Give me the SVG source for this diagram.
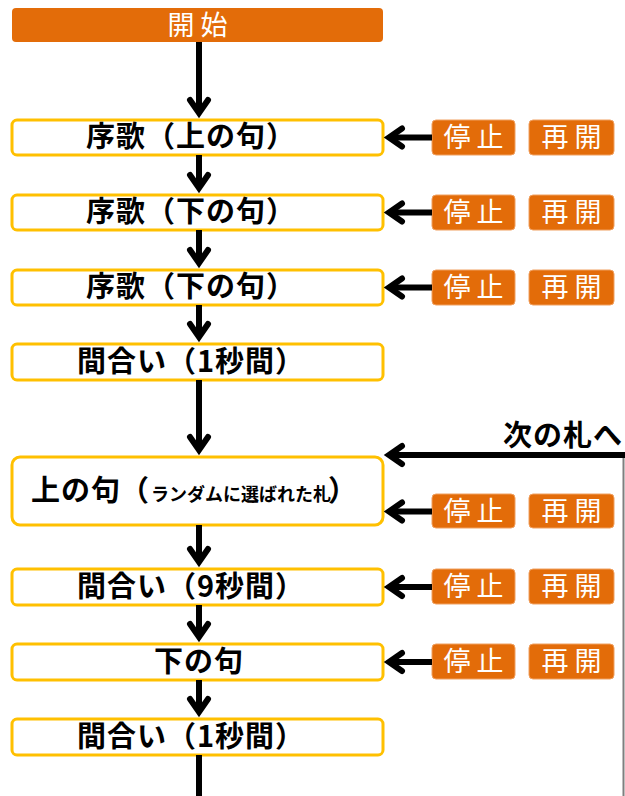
<svg xmlns="http://www.w3.org/2000/svg" width="625" height="796" viewBox="0 0 625 796">
<style>
.box{fill:#fff;stroke:#FFC000;stroke-width:3}
.btn{fill:#E36C09;stroke:#F0A060;stroke-width:1}
.t{font-family:"Noto Sans CJK JP","Noto Sans CJK SC",sans-serif;font-weight:700;font-size:29px;fill:#000;text-anchor:middle;letter-spacing:1px}
.bt{font-family:"Noto Sans CJK JP","Noto Sans CJK SC",sans-serif;font-weight:400;font-size:27px;fill:#fff;text-anchor:middle;letter-spacing:6px}
.ln{stroke:#000;stroke-width:6;fill:none}
</style>
<defs>
<marker id="ah" markerUnits="userSpaceOnUse" markerWidth="40" markerHeight="40" viewBox="-20 -20 40 40" refX="0" refY="0" orient="auto" overflow="visible">
<path d="M-13,-9 L0,0 L-13,9" fill="none" stroke="#000" stroke-width="6" stroke-linecap="round" stroke-linejoin="miter"/>
</marker>
</defs>
<rect width="625" height="796" fill="#fff"/>

<g id="start">
<rect x="12" y="8" width="371" height="34" rx="4" fill="#E36C09"/>
<text class="bt" x="200.5" y="35">開始</text>
</g>

<g id="n1"><rect class="box" x="12" y="120" width="371" height="35" rx="5"/><text class="t" x="191" y="147">序歌（上の句）</text></g>
<g id="n2"><rect class="box" x="12" y="195" width="371" height="35" rx="5"/><text class="t" x="191" y="222">序歌（下の句）</text></g>
<g id="n3"><rect class="box" x="12" y="270" width="371" height="35" rx="5"/><text class="t" x="191" y="297">序歌（下の句）</text></g>
<g id="n4"><rect class="box" x="12" y="344" width="371" height="36" rx="5"/><text class="t" x="191" y="372">間合い（1秒間）</text></g>
<g id="n5"><rect class="box" x="12" y="457" width="371" height="68" rx="8"/>
<text class="t" style="text-anchor:start" y="501"><tspan x="31">上の句</tspan><tspan x="120">（</tspan><tspan x="151" font-size="18px" letter-spacing="0">ランダムに選ばれた札</tspan><tspan x="328">）</tspan></text></g>
<g id="n6"><rect class="box" x="12" y="569" width="371" height="36" rx="5"/><text class="t" x="191" y="597">間合い（9秒間）</text></g>
<g id="n7"><rect class="box" x="12" y="644" width="371" height="36" rx="5"/><text class="t" x="199" y="672">下の句</text></g>
<g id="n8"><rect class="box" x="12" y="719" width="371" height="36" rx="5"/><text class="t" x="191" y="747">間合い（1秒間）</text></g>

<g id="controls">
<g id="c1"><rect class="btn" x="432" y="120" width="83" height="35" rx="4"/><text class="bt" x="476.5" y="147">停止</text><rect class="btn" x="529" y="120" width="85" height="35" rx="4"/><text class="bt" x="574.5" y="147">再開</text></g>
<g id="c2"><rect class="btn" x="432" y="195" width="83" height="35" rx="4"/><text class="bt" x="476.5" y="222">停止</text><rect class="btn" x="529" y="195" width="85" height="35" rx="4"/><text class="bt" x="574.5" y="222">再開</text></g>
<g id="c3"><rect class="btn" x="432" y="270" width="83" height="35" rx="4"/><text class="bt" x="476.5" y="297">停止</text><rect class="btn" x="529" y="270" width="85" height="35" rx="4"/><text class="bt" x="574.5" y="297">再開</text></g>
<g id="c5"><rect class="btn" x="432" y="494" width="83" height="34" rx="4"/><text class="bt" x="476.5" y="521">停止</text><rect class="btn" x="529" y="494" width="85" height="34" rx="4"/><text class="bt" x="574.5" y="521">再開</text></g>
<g id="c6"><rect class="btn" x="432" y="569" width="83" height="35" rx="4"/><text class="bt" x="476.5" y="596">停止</text><rect class="btn" x="529" y="569" width="85" height="35" rx="4"/><text class="bt" x="574.5" y="596">再開</text></g>
<g id="c7"><rect class="btn" x="432" y="644" width="83" height="35" rx="4"/><text class="bt" x="476.5" y="671">停止</text><rect class="btn" x="529" y="644" width="85" height="35" rx="4"/><text class="bt" x="574.5" y="671">再開</text></g>
</g>

<g id="next-label"><text class="t" style="text-anchor:end" x="623" y="446">次の札へ</text></g>

<g id="connectors">
<line class="ln" x1="199" y1="42" x2="199" y2="113" marker-end="url(#ah)"/>
<line class="ln" x1="199" y1="155" x2="199" y2="188" marker-end="url(#ah)"/>
<line class="ln" x1="199" y1="230" x2="199" y2="263" marker-end="url(#ah)"/>
<line class="ln" x1="199" y1="305" x2="199" y2="337" marker-end="url(#ah)"/>
<line class="ln" x1="199" y1="380" x2="199" y2="450" marker-end="url(#ah)"/>
<line class="ln" x1="199" y1="525" x2="199" y2="562" marker-end="url(#ah)"/>
<line class="ln" x1="199" y1="605" x2="199" y2="637" marker-end="url(#ah)"/>
<line class="ln" x1="199" y1="680" x2="199" y2="712" marker-end="url(#ah)"/>
<line class="ln" x1="199" y1="755" x2="199" y2="796"/>
<line class="ln" x1="432" y1="137.5" x2="389" y2="137.5" marker-end="url(#ah)"/>
<line class="ln" x1="432" y1="212.5" x2="389" y2="212.5" marker-end="url(#ah)"/>
<line class="ln" x1="432" y1="287.5" x2="389" y2="287.5" marker-end="url(#ah)"/>
<line class="ln" x1="432" y1="511.5" x2="389" y2="511.5" marker-end="url(#ah)"/>
<line class="ln" x1="432" y1="587" x2="389" y2="587" marker-end="url(#ah)"/>
<line class="ln" x1="432" y1="662" x2="389" y2="662" marker-end="url(#ah)"/>
<line x1="623.5" y1="455" x2="623.5" y2="796" stroke="#7F7F7F" stroke-width="2"/>
<line class="ln" x1="626" y1="455" x2="389" y2="455" stroke-width="5" marker-end="url(#ah)"/>
</g>
</svg>
